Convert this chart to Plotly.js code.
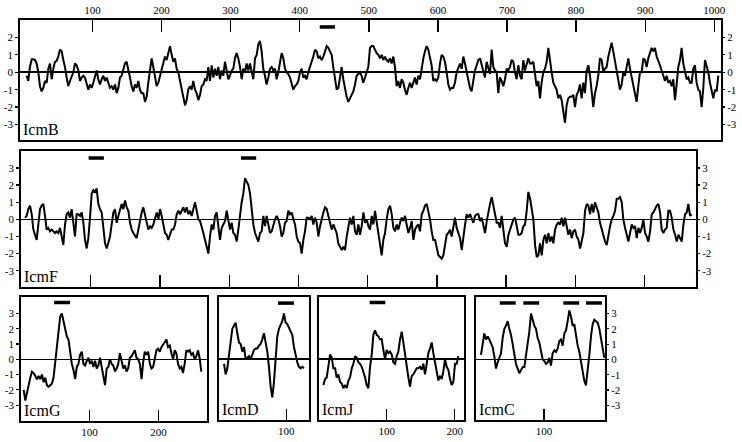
<!DOCTYPE html>
<html>
<head>
<meta charset="utf-8">
<script src="https://cdn.plot.ly/plotly-3.0.1.min.js"></script>
<style>
  html, body { margin: 0; padding: 0; background: #fff; }
  #chart { width: 742px; height: 442px; }
</style>
</head>
<body>
<div id="chart"></div>
<script>
// Hydropathy profiles of the Icm proteins, values read off the reference
// figure. Each profile is sampled at an even residue spacing.

var proteins = ['IcmB', 'IcmF', 'IcmG', 'IcmD', 'IcmJ', 'IcmC'];

// first sampled residue and residue spacing of every profile
var sampleStart = [4.82, 5.13, 4.95, 10.2, 6.9, 8.7];
var sampleStep = [2.412, 2.407, 2.40, 2.40, 2.45, 2.415];

var icmB = [
    -0.2, -0.5, 0.3, 0.75, 0.75, 0.7, 0.5, 0.0, -0.8, -1.1,
    -0.9, -0.5, -0.6, 0.2, 0.5, -0.4, 0.2, 0.6, 0.65, 0.9,
    1.3, 1.2, 0.7, 0.3, -0.3, -0.8, -0.5, -0.2, 0.0, 0.5,
    0.4, 0.1, -0.5, -0.3, -0.2, -0.3, -0.7, -1.0, -0.7, -0.9,
    -0.6, -0.2, 0.1, -0.4, -0.7, -0.4, -0.2, -0.5, -0.3, -0.6,
    -0.9, -0.8, -1.0, -0.7, -1.2, -0.9, -0.3, -0.2, 0.1, 0.5,
    0.6, 0.2, -0.3, -0.8, -1.1, -0.7, -0.9, -0.5, -1.0, -1.2,
    -1.2, -1.7, -1.4, -0.6, 0.3, 0.8, 0.3, -0.3, -0.8, -0.6,
    -0.2, 0.1, 0.5, 0.9, 0.7, 1.2, 1.5, 1.0, 0.6, 0.8,
    0.2, 0.0, -0.5, -1.0, -1.5, -1.9, -1.6, -1.0, -0.8, -1.0,
    -0.5, -1.0, -1.2, -1.6, -1.3, -0.8, -0.7, -0.4, -0.5, 0.3,
    -0.5, 0.4, -0.3, 0.2, -0.2, 0.3, -0.4, 0.1, -0.2, 0.6,
    0.1, -0.4, -0.2, 0.1, 0.2, 0.8, 1.1, 0.8, 0.3, -0.4,
    0.2, 0.0, 0.5,
    0.1, 0.5, 0.0, -0.4, 0.8, 1.0, 1.6, 1.8, 1.2, 0.2,
    -0.2, -0.7, -0.3, 0.2, 0.3, 0.1, 0.2, -0.4, 0.0, 0.5,
    1.1, 0.8, 0.2, 0.0, -0.1, -0.3, -0.7, -1.0, -0.8, -0.7,
    -0.5, 0.0, 0.2, -0.3, -0.2, -0.4, 0.0, 0.3, 0.5, 0.9,
    1.3, 1.2, 0.8, 0.9, 0.7, 0.9, 1.2, 1.5, 1.4, 1.2,
    1.0, 0.3, -0.4, -1.0, -0.9, -0.2, 0.3, -0.4, -1.0, -1.4,
    -1.7, -1.5, -1.3, -1.1, -0.7, -0.2, -0.1, 0.0, -0.2, -0.6,
    -0.3, 0.0, 0.3, 1.4, 1.5, 1.5, 1.3, 1.1, 1.0, 0.8,
    1.0, 0.7, 0.9, 0.7, 0.6, 0.8, 0.5, 0.9, 0.3, -0.8,
    -0.5, -0.9, -0.4, -0.6, -1.0, -1.3, -0.9, -0.6, -0.9, -0.6,
    -0.3, -0.7, -0.2, -0.4, 0.3, 0.8, 1.2, 1.5, 1.3, 0.9,
    0.4, -0.5, -0.4, -0.5, -0.3, 0.5, 1.0, 0.9, 0.6, 0.0,
    -0.7, -1.0, -0.9, -0.9, -0.6, 0.0, 0.3, 0.5, 0.2, 0.9,
    0.5, 0.0, -0.4, -0.9, -1.1, -0.5, 0.1, 0.4, 0.7, 0.8,
    0.4, 0.1, -0.3, 0.6, 0.2, -0.1, 1.3,
    0.3, 0.1, 0.0, -1.2, -0.3, -0.5, -0.8, -0.4, 0.2, 0.1,
    0.3, 0.7, 0.6, 0.0, -0.4, 0.4, -0.2, -0.4, 0.7, 0.1,
    0.5, 0.8, 0.5, 0.5, 0.6, -0.1, -0.8, -0.5, -1.5, -0.6,
    0.0, 0.2, 0.6, 1.4, 0.5, 0.0, -0.6, -0.8, -1.0, -1.5,
    -1.3, -1.6, -2.2, -2.9, -1.9, -1.5, -1.4, -1.4, -1.3, -2.0,
    -1.3, -1.1, -0.7, -1.5, -0.6, -1.2, 0.1, 0.4, -0.2, -1.0,
    -2.0, -1.2, -0.8, -0.2, 0.8, 0.7, 0.0, 0.2, 0.3, 0.9,
    1.3, 1.7, 1.2, 0.6, 0.2, -0.5, -1.0, -0.7, 0.0, -0.2,
    0.3, 0.8, 0.2, -0.3, -0.8, -1.2, -1.7, -0.8, 0.0, 0.0,
    0.8, 0.7, 0.3, 0.8, 1.1, 1.4, 1.2, 1.4, 0.9, 0.7,
    0.4, 0.1, -0.2, -0.5, -0.2, -0.6, -0.5, -0.8, -0.4, -1.6,
    -0.7, 0.3, 0.7, 1.4, 0.5, 0.0, -0.4, -0.3, -0.6, -0.6,
    0.2, 0.4, -0.6, -1.0, -1.1, -2.0, -0.9, 0.7, 0.4, 0.0,
    -0.6, -1.0, -1.5, -1.0, -1.1, -0.2
];

var icmF = [
    0.1, 0.2, 0.6, 0.8, 0.3, -0.6, -0.9, -1.2, -0.3, 0.6,
    0.8, 0.9, 0.2, -0.6, -0.5, -0.7, -0.6, -0.7, -0.8, -0.7,
    -0.8, -0.5, -1.1, -1.5, -0.3, 0.3, 0.4, 0.1, 0.6, -0.3,
    -1.0, 0.3, 0.3, 0.2, 0.4, -0.2, -1.2, -1.7, -1.1, 0.1,
    1.5, 1.7, 1.6, 1.8, 0.9, 0.6, 0.4, -0.5, -1.4, -1.7,
    -1.4, -1.0, -0.3, 0.4, 0.6, -0.2, 0.2, 0.6, 0.9, 0.6,
    1.1, 0.7, 0.5, -0.2, -0.6, -0.8, -1.0, -1.1, -0.6, 0.0,
    0.4, 0.7, 0.3, -0.2, -0.6, -0.4, -0.5, -0.3, 0.0, 0.4,
    0.0, 0.6, 0.2, -0.4, -0.8, -0.9, -1.2, -0.9, -0.6, -0.6,
    -0.3, 0.3, 0.5, 0.3, 0.5, 0.7, 0.4, 0.7, 0.3, 0.5,
    0.2, 0.6, 1.0, 0.5, 0.0, -0.1, -0.4, -0.8, -1.2, -1.6,
    -2.0, -1.0, -0.3, -0.6, 0.2, 0.4, -0.3, -1.2, -0.5, -0.3,
    -0.1, 0.5, 0.0, -0.6, -0.2, -0.8, -0.9, -1.3, -0.6, 0.3,
    1.0, 1.5, 2.4, 2.2, 2.0,
    1.5, 0.5, -0.3, -0.8, -1.1, -1.3, -0.8, -0.7, 0.2, -0.4,
    0.2, -0.4, -0.8, -0.7, -0.3, 0.0, 0.2, 0.0, -0.4, -1.0,
    -0.8, -0.2, -0.1, 0.5, 0.3, 0.4, 0.0, -0.3, -1.0, -1.3,
    -1.4, -2.0, -1.2, -0.7, 0.1, 0.1, 0.0, 0.2, -0.3, 0.1,
    -0.2, -1.0, -0.4, 0.1, 0.4, 0.7, 0.6, 0.2, -0.2, -0.6,
    -0.3, -0.5, -0.8, -1.4, -1.6, -1.8, -1.6, -1.8, -1.0, -0.3,
    0.1, -0.3, 0.2, -0.7, -0.9, -0.3, -0.9, -0.4, 0.4, -0.2,
    0.0, -0.4, -0.6, 0.2, -0.3, 0.5, -0.2, -0.8, -1.3, -2.1,
    -1.2, -0.8, 0.0, 0.6, 0.8, 0.3, -0.5, -0.7, -0.3, -0.6,
    -0.2, 0.1, -0.1, 0.2, -0.3, -0.8, -0.5, -0.1, -1.2, -0.6,
    -0.4, -0.3, -0.7, 0.3, 0.5, 0.8, 0.9, 0.5, 0.0, -0.7,
    -1.2, -1.2, -1.7, -2.1, -2.2, -2.3, -2.1, -1.6, -0.9, -0.8,
    -0.6, -1.0, -0.4, 0.1, -0.5, -0.8, -1.1, -1.8, -0.9, -0.3,
    0.3, 0.1, 0.3, 0.0, -0.2, 0.2, 0.3, 0.3, -0.1, 0.1,
    -0.3, -0.8, -0.1, 0.5, 0.9, 1.3, 0.8,
    0.5, -0.2, -0.2, -0.5, 0.2, -0.8, -1.4, -1.6, -0.9, -0.6,
    -0.3, 0.0, 0.1, -0.4, -0.9, -0.9, -0.8, -0.4, -0.3, 0.5,
    1.6, 1.2, 0.5, 0.0, -1.5, -2.2, -2.1, -1.4, -2.1, -1.2,
    -0.9, -1.4, -0.8, -1.3, -1.0, -1.4, -0.6, -0.3, -0.2, -0.3,
    0.1, -0.4, 0.1, -0.4, -0.9, -0.6, -1.1, -0.7, -0.6, -1.0,
    -1.2, -1.7, -1.2, -0.8, 0.5, 0.9, 0.8, 0.3, 0.9, 0.4,
    1.0, 0.7, 0.4, -0.2, -0.6, -1.0, -1.3, -1.5, -0.9, -0.4,
    0.0, 0.2, 0.5, 1.2, 1.2, 1.3, 1.0, 0.0, -0.5, -1.0,
    -1.3, -0.8, -0.3, -0.5, -0.4, -1.1, -0.5, -0.8, -0.5, 0.0,
    -0.8, -1.0, -1.3, -0.7, 0.3, 0.4, 0.6, 0.8, 0.9, 0.4,
    -0.6, -0.8, -0.6, -0.5, 0.5, 0.5, 0.1, -0.6, -0.9, -1.3,
    -0.9, -1.1, -1.3, -0.3, 0.3, 0.4, 0.9, 0.2, 0.3
];

var icmG = [
    -2.0, -2.7, -2.2, -1.6, -1.2, -0.8, -0.9, -1.1, -1.3, -1.1,
    -1.3, -1.0, -1.5, -1.2, -1.7, -1.8, -1.7, -1.6, -1.2, -0.2,
    0.5, 1.9, 2.8, 3.0, 2.5, 2.2, 1.5, 1.3, 0.5, -0.3,
    -0.7, -1.3, -0.5, -0.3, 0.3, 0.5, -0.3, -0.4, -0.1, 0.1,
    -0.3, -0.1, -0.5, -0.1, -0.6, -0.4, 0.1, -0.6, -1.0, -1.7,
    -0.6, -0.5, 0.0, -0.3, -0.4, -0.8, -0.6, -0.3, 0.4, -0.2,
    -0.6, -0.4, -0.8, -0.6, 0.1, 0.2, 0.4, 0.6, 0.1, 0.0,
    -0.3, -1.3, -0.2, 0.5, 0.3, 0.5, -0.3, -0.6, -0.5, 0.1,
    0.6, 0.7, 0.5, 0.8, 1.0, 1.2, 1.3, 0.8, 0.9, 0.4,
    0.0, 0.6, 0.4, -0.3, -0.6, -0.5, -0.9, -0.3, 0.6, 0.5,
    0.6, 0.3, 0.4, 0.0, 0.2, 0.6, 0.1, -0.8
];

var icmD = [
    -0.3, -1.0, -0.6, 0.3, 1.3, 2.0, 2.2, 2.4, 1.7, 1.1,
    1.0, 0.5, 0.8, 0.0, 0.1, 0.2, 0.0, 0.3, 0.6, 0.7,
    0.7, 0.9, 1.0, 1.3, 1.7, 1.1, 0.5, -0.5, -1.8, -2.5,
    -1.5, 0.0, 1.5, 2.0, 2.3, 2.5, 3.0, 2.4, 2.3, 2.1,
    1.8, 1.6, 0.8, 0.2, -0.2, -0.5, -0.6, -0.5, -0.6
];

var icmJ = [
    -1.7, -1.3, -1.2, -0.4, 0.3, 0.1, -0.6, -0.6, -1.2, -1.0,
    -1.5, -1.6, -1.9, -1.7, -1.9, -1.4, -1.2, -0.6, -0.3, 0.2,
    0.1, -0.2, -0.3, -0.5, -0.8, -1.2, -1.7, -1.9, -0.5, 0.3,
    1.6, 1.9, 1.6, 1.5, 1.3, 1.3, 0.6, 0.0, 0.6, 0.4,
    0.5, 0.3, -0.2, -0.3, 0.2, 0.5, 1.3, 1.8, 1.1, 0.2,
    -0.3, -1.2, -1.8, -1.1, -1.0, -0.8, -0.6, -0.6, -0.5, -0.7,
    -0.3, -1.0, -0.2, 0.4, 0.7, 1.1, 0.4, -0.2, -0.8, -1.4,
    -1.1, -1.3, -0.8, 0.0, -0.5, -0.7, -1.3, -1.7, -1.5, -0.3,
    -0.3, 0.2
];

var icmC = [
    0.3, 1.0, 1.7, 1.3, 1.5, 1.3, 1.0, 0.8, 0.2, -0.6,
    -0.2, 0.1, 0.4, 1.4, 2.0, 2.2, 2.5, 2.0, 1.6, 1.0,
    0.2, -0.3, -0.6, -0.9, -0.7, -0.5, -0.5, 0.3, 0.9, 1.8,
    3.0, 2.6, 2.2, 2.0, 1.4, 1.1, 0.5, 0.0, -0.1, -0.3,
    -0.2, 0.1, -0.4, 0.4, 0.6, 0.5, 0.7, 1.2, 1.3, 0.9,
    1.7, 1.9, 2.5, 3.2, 2.8, 2.2, 2.3, 1.5, 0.9, 0.5,
    -0.1, -0.9, -1.4, -1.7, -0.8, 0.3, 1.5, 2.3, 2.6, 2.5,
    2.4, 2.0, 1.3, 0.5, 0.1
];

// hydrophobic stretches marked with a bar above the profile [from, to]
var tmB = [[429, 451]];
var tmF = [[97, 119], [317, 339]];
var tmG = [[49, 72]];
var tmD = [[88, 111]];
var tmJ = [[75, 98]];
var tmC = [[36, 59], [70, 93], [128, 151], [161, 184]];

// axis ticks
var ticksB = [100, 200, 300, 400, 500, 600, 700, 800, 900, 1000];
var ticksF = [100, 200, 300, 400, 500, 600, 700, 800, 900];
var ticksG = [100, 200];
var ticksD = [100];
var ticksJ = [100, 200];
var ticksC = [100];
var yVals = [3, 2, 1, 0, -1, -2, -3];
var yText = ['3', '2', '1', '0', '-1', '-2', '-3'];

var profiles = [icmB, icmF, icmG, icmD, icmJ, icmC];
var segments = [tmB, tmF, tmG, tmD, tmJ, tmC];
var xTicks = [ticksB, ticksF, ticksG, ticksD, ticksJ, ticksC];

var W = 742, H = 442;
var FONT = 'Liberation Serif, Times New Roman, serif';

// pixel boxes of the panels [left, right, top, bottom] and axis set-up
var panels = [
    {box: [20, 721, 20, 140], xr: [-4.8, 1009.7], yr: [-3.89, 3.0], side: 'top',
        labels: true, ticklen: 12, left: true, right: true, yTop: 2, barY: 2.6},
    {box: [21, 696, 151, 287], xr: [-0.65, 974.1], yr: [-3.95, 3.99], side: 'bottom',
        labels: false, ticklen: 12, left: true, right: true, yTop: 3, barY: 3.58},
    {box: [21, 207, 297, 421], xr: [1.15, 270], yr: [-4.04, 4.08], side: 'bottom',
        labels: true, ticklen: 11, left: true, right: false, yTop: 3, barY: 3.72},
    {box: [219, 309, 297, 420], xr: [3, 132.7], yr: [-3.99, 4.08], side: 'bottom',
        labels: true, ticklen: 11, left: false, right: false, yTop: 3, barY: 3.68},
    {box: [319, 464, 297, 420], xr: [0.44, 213.7], yr: [-3.99, 4.08], side: 'bottom',
        labels: true, ticklen: 11, left: false, right: false, yTop: 3, barY: 3.72},
    {box: [476, 605, 297, 420], xr: [1.45, 188.4], yr: [-3.96, 4.08], side: 'bottom',
        labels: true, ticklen: 11, left: false, right: true, yTop: 3, barY: 3.69}
];

function residues(n, start, step) {
    var out = [];
    for (var i = 0; i < n; i++) {
        out.push(Math.round((start + i * step) * 10) / 10);
    }
    return out;
}

function yTicks(top) {
    var idx = yVals.indexOf(top);
    return {vals: yVals.slice(idx), text: yText.slice(idx)};
}

var traces = [];
var layout = {
    width: W,
    height: H,
    margin: {l: 0, r: 0, t: 0, b: 0, pad: 0},
    paper_bgcolor: 'white',
    plot_bgcolor: 'white',
    showlegend: false,
    font: {family: FONT, size: 11, color: 'black'},
    annotations: []
};

var nextAxis = panels.length + 1;

panels.forEach(function (p, i) {
    var s = i === 0 ? '' : String(i + 1);
    var xDomain = [p.box[0] / W, p.box[1] / W];
    var yDomain = [1 - p.box[3] / H, 1 - p.box[2] / H];
    var yt = yTicks(p.yTop);

    // the profile itself
    traces.push({
        type: 'scatter',
        mode: 'lines',
        x: residues(profiles[i].length, sampleStart[i], sampleStep[i]),
        y: profiles[i],
        xaxis: 'x' + s,
        yaxis: 'y' + s,
        line: {color: 'black', width: 2},
        hoverinfo: 'skip'
    });

    // bars over the hydrophobic stretches
    var bx = [], by = [];
    segments[i].forEach(function (seg) {
        bx.push(seg[0], seg[1], null);
        by.push(p.barY, p.barY, null);
    });
    traces.push({
        type: 'scatter',
        mode: 'lines',
        x: bx,
        y: by,
        xaxis: 'x' + s,
        yaxis: 'y' + s,
        line: {color: 'black', width: 3.5},
        hoverinfo: 'skip'
    });

    layout['xaxis' + s] = {
        domain: xDomain,
        anchor: 'y' + s,
        range: p.xr,
        side: p.side,
        showline: true,
        mirror: true,
        linecolor: 'black',
        linewidth: 1.8,
        showgrid: false,
        zeroline: false,
        ticks: 'inside',
        ticklen: p.ticklen,
        tickwidth: 1.4,
        tickcolor: 'black',
        tickmode: 'array',
        tickvals: xTicks[i],
        showticklabels: p.labels,
        tickfont: {family: FONT, size: 11, color: 'black'},
        fixedrange: true
    };

    layout['yaxis' + s] = {
        domain: yDomain,
        anchor: 'x' + s,
        range: p.yr,
        showline: true,
        mirror: true,
        linecolor: 'black',
        linewidth: 1.8,
        showgrid: false,
        zeroline: true,
        zerolinecolor: 'black',
        zerolinewidth: 1.6,
        ticks: p.left ? 'outside' : '',
        ticklen: 3,
        tickwidth: 1.2,
        tickcolor: 'black',
        tickmode: 'array',
        tickvals: yt.vals,
        ticktext: yt.text,
        showticklabels: p.left,
        tickfont: {family: FONT, size: 11, color: 'black'},
        fixedrange: true
    };

    // labels on the right hand side come from an overlaid axis, which
    // needs a trace of its own to be drawn
    if (p.right) {
        var n = nextAxis++;
        layout['yaxis' + n] = {
            domain: yDomain,
            anchor: 'x' + s,
            overlaying: 'y' + s,
            side: 'right',
            range: p.yr,
            showline: false,
            showgrid: false,
            zeroline: false,
            ticks: 'outside',
            ticklen: 3,
            tickwidth: 1.2,
            tickcolor: 'black',
            tickmode: 'array',
            tickvals: yt.vals,
            ticktext: yt.text,
            tickfont: {family: FONT, size: 11, color: 'black'},
            fixedrange: true
        };
        traces.push({
            type: 'scatter',
            mode: 'markers',
            x: [p.xr[0]],
            y: [0],
            xaxis: 'x' + s,
            yaxis: 'y' + n,
            marker: {opacity: 0, size: 1},
            hoverinfo: 'skip'
        });
    }

    layout.annotations.push({
        text: proteins[i],
        xref: 'paper',
        yref: 'paper',
        x: (p.box[0] + 2) / W,
        y: 1 - (p.box[3] - 1) / H,
        xanchor: 'left',
        yanchor: 'bottom',
        showarrow: false,
        borderpad: 0,
        font: {family: FONT, size: 16, color: 'black'}
    });
});

Plotly.newPlot('chart', traces, layout, {displayModeBar: false, staticPlot: true});
</script>
</body>
</html>
